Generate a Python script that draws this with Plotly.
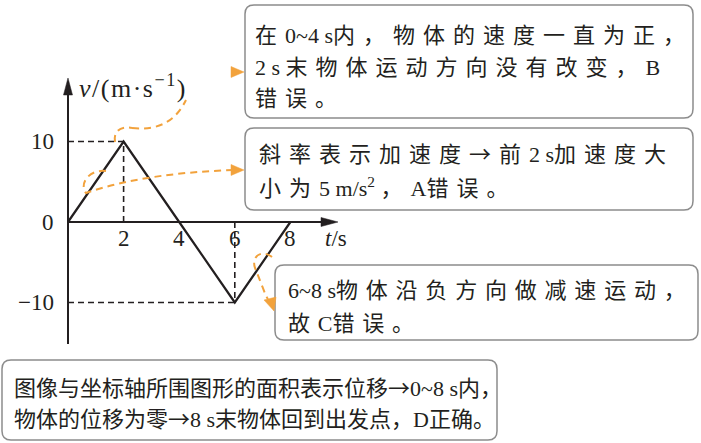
import re
import plotly.graph_objects as go

W, H = 701, 443

# ---------------- data ----------------
t_vals = [0, 2, 4, 6, 8]
v_vals = [0, 10, 0, -10, 0]
x_tick_vals = [2, 4, 6, 8]
x_tick_text = ["2", "4", "6", "8"]
y_tick_vals = [10, 0, -10]
y_tick_text = ["10", "0", "\u221210"]
guide_t = [2, 6]
guide_v = [10, -10]
y_title = "<i>v</i>/(m\u00b7s<sup>\u22121</sup>)"
x_title = "<i>t</i>/s"

box1_lines = ["在0~4 s内，物体的速度一直为正，", "2 s 末物体运动方向没有改变，B", "错误。"]
box2_lines = ["斜率表示加速度→前2 s加速度大", "小为5 m/s<sup>2</sup> ，A错误。"]
box3_lines = ["6~8 s物体沿负方向做减速运动，", "故C错误。"]
box4_lines = ["图像与坐标轴所围图形的面积表示位移→0~8 s内，", "物体的位移为零→8 s末物体回到出发点，D正确。"]

# ---------------- layout constants (pixels) ----------------
X0, KX = 68.0, 27.8      # pixel of t=0, pixels per second
Y0, KY = 222.0, 8.05     # pixel of v=0, pixels per m/s
INK = "#231f20"
ORANGE = "#F2A23C"
BORDER = "#8c8c8c"
FONT = "Liberation Serif, Noto Sans CJK SC, serif"
CJK = re.compile(r"([\u2192\u3000-\u303f\u4e00-\u9fff\uff00-\uffef]+)")


def px(x):
    return x / W


def py(y):
    return 1 - y / H


def path(*segs):
    out = []
    for seg in segs:
        cmd, pts = seg[0], seg[1:]
        coords = " ".join(f"{px(pts[i]):.5f},{py(pts[i+1]):.5f}" for i in range(0, len(pts), 2))
        out.append(f"{cmd} {coords}".strip())
    return " ".join(out)


def rrect(x0, y0, x1, y1, r):
    return path(("M", x0 + r, y0), ("L", x1 - r, y0), ("Q", x1, y0, x1, y0 + r),
                ("L", x1, y1 - r), ("Q", x1, y1, x1 - r, y1), ("L", x0 + r, y1),
                ("Q", x0, y1, x0, y1 - r), ("L", x0, y0 + r), ("Q", x0, y0, x0 + r, y0), ("Z",))


def styled(line, ls):
    parts = CJK.split(line)
    out = []
    for i, p in enumerate(parts):
        if not p:
            continue
        if i % 2 == 1:
            out.append(f"<span style='font-family:Noto Sans CJK SC;letter-spacing:{ls}px'>{p}</span>")
        else:
            out.append(p)
    return "".join(out)


fig = go.Figure()

# guide dashed lines from the extreme points
for t, v in zip(guide_t, guide_v):
    fig.add_trace(go.Scatter(x=[0, t], y=[v, v], mode="lines",
                             line=dict(color=INK, width=1.6, dash="6px,4px"),
                             hoverinfo="skip", showlegend=False))
    fig.add_trace(go.Scatter(x=[t, t], y=[0, v], mode="lines",
                             line=dict(color=INK, width=1.6, dash="6px,4px"),
                             hoverinfo="skip", showlegend=False))

# the v-t graph
fig.add_trace(go.Scatter(x=t_vals, y=v_vals, mode="lines",
                         line=dict(color=INK, width=2.2), showlegend=False))

shapes = []
# axes
shapes.append(dict(type="line", xref="paper", yref="paper", x0=px(X0), x1=px(X0),
                   y0=py(344), y1=py(92), line=dict(color=INK, width=2)))
shapes.append(dict(type="path", xref="paper", yref="paper",
                   path=path(("M", X0, 78), ("L", X0 - 4.5, 95), ("L", X0 + 4.5, 95), ("Z",)),
                   fillcolor=INK, line=dict(color=INK, width=0.5)))
shapes.append(dict(type="line", xref="paper", yref="paper", x0=px(X0), x1=px(326),
                   y0=py(Y0), y1=py(Y0), line=dict(color=INK, width=2)))
shapes.append(dict(type="path", xref="paper", yref="paper",
                   path=path(("M", 338, Y0), ("L", 321, Y0 - 4.5), ("L", 321, Y0 + 4.5), ("Z",)),
                   fillcolor=INK, line=dict(color=INK, width=0.5)))

# boxes
for (x0, y0, x1, y1) in [(245, 5, 693, 118), (245, 128, 693, 210), (275, 265, 698, 340), (2, 360, 497, 440)]:
    shapes.append(dict(type="path", xref="paper", yref="paper", path=rrect(x0, y0, x1, y1, 9),
                       fillcolor="white", line=dict(color=BORDER, width=1.5), layer="below"))

# orange dashed callout arrows
odash = dict(color=ORANGE, width=2, dash="7px,5px")
shapes.append(dict(type="path", xref="paper", yref="paper", line=odash,
                   path=path(("M", 115, 142), ("C", 113, 130, 122, 126, 132, 128, 142, 130, 141, 143, 134, 151))))
shapes.append(dict(type="path", xref="paper", yref="paper", line=odash,
                   path=path(("M", 132, 128), ("C", 160, 131, 176, 120, 186, 100, 196, 80, 210, 72, 233, 72))))
shapes.append(dict(type="path", xref="paper", yref="paper", line=odash,
                   path=path(("M", 106, 171), ("C", 88, 169, 79, 185, 86, 193, 92, 200, 108, 197, 110, 183),
                             ("C", 130, 178, 180, 172, 233, 170))))
shapes.append(dict(type="path", xref="paper", yref="paper", line=odash,
                   path=path(("M", 272, 257), ("C", 262, 249, 251, 256, 255, 268, 258, 277, 269, 276, 266, 284),
                             ("C", 264, 290, 265, 295, 268, 299))))
for tri in [((244, 72), (231, 66.5), (231, 77.5)), ((244, 170), (231, 164.5), (231, 175.5)),
            ((274, 311), (264, 300), (276, 297))]:
    shapes.append(dict(type="path", xref="paper", yref="paper", fillcolor=ORANGE,
                       line=dict(color=ORANGE, width=0.5),
                       path=path(("M", *tri[0]), ("L", *tri[1]), ("L", *tri[2]), ("Z",))))

annotations = []
# tick labels
for t, s in zip(x_tick_vals, x_tick_text):
    annotations.append(dict(x=t, y=0, xref="x", yref="y", text=s, showarrow=False,
                            xanchor="center", yanchor="middle", yshift=-16,
                            font=dict(family=FONT, size=23, color=INK)))
for v, s in zip(y_tick_vals, y_tick_text):
    annotations.append(dict(x=0, y=v, xref="x", yref="y", text=s, showarrow=False,
                            xanchor="right", yanchor="middle", xshift=-12,
                            font=dict(family=FONT, size=23, color=INK)))
annotations.append(dict(x=px(323), y=py(238), xref="paper", yref="paper", text=x_title,
                        showarrow=False, xanchor="left", yanchor="middle",
                        font=dict(family=FONT, size=23, color=INK)))
annotations.append(dict(x=px(77), y=py(86), xref="paper", yref="paper",
                        text=f"<span style='letter-spacing:1.5px'>{y_title}</span>",
                        showarrow=False, xanchor="left", yanchor="middle",
                        font=dict(family=FONT, size=26, color=INK)))

# callout texts
for lines, left, centers, ls in [(box1_lines, 253, [33, 65, 96], 8),
                                 (box2_lines, 257, [152, 186], 8),
                                 (box3_lines, 286, [288, 321], 7.8),
                                 (box4_lines, 12, [386, 417], 0)]:
    for line, cy in zip(lines, centers):
        annotations.append(dict(x=px(left), y=py(cy), xref="paper", yref="paper", text=styled(line, ls),
                                showarrow=False, xanchor="left", yanchor="middle",
                                font=dict(family=FONT, size=22, color=INK)))

fig.update_layout(
    width=W, height=H, margin=dict(l=0, r=0, t=0, b=0),
    paper_bgcolor="white", plot_bgcolor="white",
    xaxis=dict(range=[-X0 / KX, (W - X0) / KX], visible=False, fixedrange=True),
    yaxis=dict(range=[-(H - Y0) / KY, Y0 / KY], visible=False, fixedrange=True),
    shapes=shapes, annotations=annotations, showlegend=False,
)

fig.write_html("out.html", config={"displayModeBar": False},
               post_script="document.body.style.margin='0';")
